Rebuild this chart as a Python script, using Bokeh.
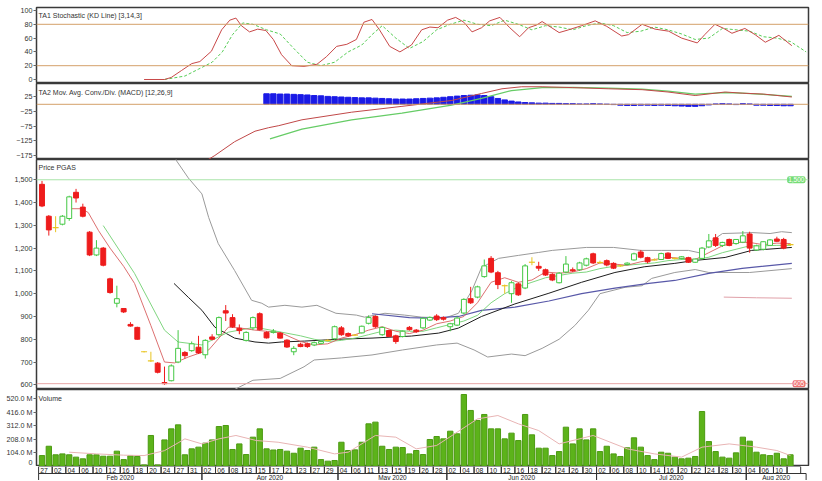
from bokeh.plotting import figure
from bokeh.layouts import column
from bokeh.models import Range1d, Span, Label, FixedTicker, ColumnDataSource, NumeralTickFormatter
from bokeh.core.properties import value
from bokeh.embed import file_html
from bokeh.resources import INLINE

# ---------------- data ----------------
opens = [1480,1340,1290,1305,1330,1445,1380,1270,1170,1200,
         1065,958,935,865,852,745,705,695,610,618,
         700,742,750,765,732,810,820,925,895,848,
         795,850,912,830,830,827,796,745,778,780,
         775,782,795,802,850,825,818,828,870,900,
         820,838,815,812,852,840,850,884,902,895,
         855,862,915,978,985,1075,1155,1092,1035,1000,
         1043,1025,1138,1120,1105,1085,1048,1095,1105,1105,
         1125,1175,1137,1145,1133,1122,1128,1148,1183,1158,
         1148,1150,1178,1155,1155,1158,1138,1155,1205,1245,
         1212,1238,1220,1226,1262,1192,1195,1212,1240,1238,1215]
highs = [1495,1345,1340,1345,1430,1460,1395,1275,1235,1205,
         1070,1035,935,875,855,748,745,700,680,690,
         840,748,790,815,800,822,900,950,910,865,
         835,900,918,835,845,832,800,770,785,785,
         790,792,800,860,858,830,822,860,905,905,
         855,842,820,838,858,845,895,900,910,900,
         872,900,980,1030,1035,1150,1165,1100,1040,1055,
         1050,1130,1160,1140,1110,1090,1095,1165,1115,1140,
         1158,1180,1145,1150,1138,1128,1138,1180,1192,1162,
         1155,1180,1182,1160,1165,1162,1155,1205,1262,1262,
         1228,1242,1240,1275,1272,1215,1230,1240,1250,1245,1220]
lows = [1380,1255,1270,1300,1320,1400,1335,1165,1165,1120,
        1000,940,915,855,798,742,700,650,600,615,
        695,715,745,735,715,795,815,880,850,822,
        790,840,838,803,825,803,762,730,765,762,
        770,778,790,798,815,810,814,825,865,850,
        815,810,780,808,838,828,845,880,880,882,
        835,858,910,955,980,1070,1090,1020,1000,960,
        990,1020,1125,1100,1078,1055,1045,1090,1095,1100,
        1120,1130,1130,1120,1108,1118,1125,1145,1155,1133,
        1145,1148,1152,1150,1150,1135,1135,1150,1200,1205,
        1205,1208,1215,1222,1180,1188,1190,1210,1228,1195,1210]
closes = [1385,1280,1290,1340,1425,1420,1340,1170,1200,1125,
          1005,978,920,858,800,745,705,655,605,683,
          760,728,780,740,795,800,895,915,855,838,
          830,895,842,806,835,805,766,760,768,768,
          785,790,795,855,820,815,818,857,895,855,
          852,812,790,835,842,833,892,896,886,888,
          868,893,975,960,1030,1122,1095,1040,1035,1048,
          995,1122,1138,1112,1082,1060,1090,1130,1100,1135,
          1153,1135,1137,1126,1112,1122,1134,1175,1160,1140,
          1148,1176,1155,1155,1162,1138,1152,1200,1232,1212,
          1225,1212,1238,1254,1200,1210,1228,1236,1230,1200,1215]
volumes_m = [82,154,88,95,88,70,57,88,88,77,
             77,116,51,80,75,10,237,10,203,288,
             319,88,134,147,178,203,306,314,129,172,
             90,224,288,134,125,129,116,100,139,121,
             147,51,39,44,185,121,126,185,327,340,
             154,129,147,144,95,121,90,206,229,211,
             270,250,553,430,353,399,288,288,211,255,
             198,399,242,139,139,82,113,301,172,288,
             203,288,113,154,95,75,142,219,147,82,
             51,108,100,70,57,62,75,422,190,113,
             70,62,103,224,193,108,88,82,100,57,88]

stoch_k_x = [15,18,19,20.5,22,23.2,24.9,26.4,27.6,28.5,29.3,30.5,31.7,32.9,34,35.2,36.7,38.5,40.4,41.8,
             43.3,44.8,46.2,47.3,48.5,49.6,51.1,52.6,54.3,55.8,57,58.2,59.6,60.8,62,63.2,64.6,65.8,67.3,68.75,
             70.2,71.5,72.7,73.5,76,77.4,79.3,81.3,83,85.2,86.2,88.2,90.1,92.1,94,96.3,97.4,98.9,100.2,101.4,
             103.3,104.8,106.3,108.3,110.2]
stoch_k = [0,0,3,13,23,26,41,72,86,89,78,69,73,71,58,36,20,19,22,33,
           48,51,58,83,87,72,48,40,50,72,76,75,86,90,83,69,75,85,90,75,
           62,75,79,84,68,72,78,85,77,63,65,80,73,70,60,53,65,80,74,67,
           74,65,54,64,49]
stoch_d_x = [18,21,23,25,26.5,28,29.5,31,33,35,37,39,41,43,45,47,48.5,50,52,54,
             56,58,60,62,64,66,68,70,72,74,76,78,80,82,84,86,88,90,92,94,
             96,98,100,102,104,106,108,110,112.3]
stoch_d = [0,5,15,25,40,65,82,80,72,66,45,25,20,25,40,50,65,78,60,45,
           55,72,80,86,80,78,86,80,72,78,76,72,78,82,78,68,70,76,72,66,
           58,60,74,72,70,62,60,55,40]

macd_x = [24,25.4,28.3,31.3,33.3,34.8,38.2,45.5,52.9,60.2,64.6,67.6,70.5,73.5,78,83.3,88.2,92,96,100.4,102.9,106,110.2]
macd = [-195,-175,-128,-92,-80,-73,-53,-27,-7,13,37,53,60,60,57,53,50,42,30,42,38,35,25]
signal_x = [33.5,38.2,45.5,52.9,60.2,64.6,69,73.5,78,83.3,88.2,92,96,100.4,102.9,106,110.2]
signal = [-118,-85,-53,-30,-3,20,47,57,58,55,52,45,35,40,38,34,27]
hist_start = 33
hist = [36,36,35,35,34,33,32,30,29,27,
        26,25,24,23,22,22,21,20,19,18,
        18,18,19,20,21,22,24,26,28,30,
        31,32,30,26,20,15,11,8,6,5,
        4,4,3,3,2,2,1,1,2,1,
        0,-1,-3,-4,-4,-3,-3,-4,-3,-4,
        -5,-6,-7,-7,-5,-2,1,2,1,-1,
        2,1,-3,-3,-4,-4,-5,-5]

bb_up_x = [19,19.8,21.5,23.5,24.5,25.9,28.3,30.8,32.3,33.3,35.7,38.2,40.4,43.2,46.2,47.4,50.4,53.3,55.8,59.2,
           61.2,63.2,64.6,67.1,70,73,75,80,84,88,91,95,97,98.5,100,104.5,107,108.7,110.2]
bb_up = [1650,1582,1508,1438,1334,1220,1102,971,958,941,949,941,949,914,906,897,914,906,897,893,
         914,1015,1115,1155,1168,1181,1190,1203,1203,1190,1190,1190,1177,1233,1264,1268,1264,1272,1268]
bb_lo_x = [28,31,35,38.5,40,44,48.5,53,58,61,63.5,65.5,69,71,73.5,76,78.3,80.3,82,85.7,88.2,89.6,93,96,98,104,110.2]
bb_lo = [575,620,628,679,709,718,731,753,775,783,753,722,735,728,760,800,860,927,1000,1028,1035,1067,1093,1106,1093,1093,1110]
bb_mid_x = [19.4,21.5,23.5,25.4,28.3,31.3,33.3,35.2,38.6,43.6,48.5,54.3,58.3,61.2,64.6,69.5,74.5,79.3,84.2,88.5,93,96,100.4,104.3,110.2]
bb_mid = [1045,984,927,853,805,788,783,788,792,800,805,814,827,849,900,955,1002,1050,1093,1118,1133,1146,1159,1190,1203]
ma_long_x = [48.5,54,57.3,61.2,64.6,69.5,74.5,79.3,84.2,89.2,93,98,102.9,110.2]
ma_long = [912,895,893,900,927,941,968,1000,1024,1045,1058,1089,1111,1133]
ma_fast_x = [3.9,5.8,6.8,8.3,10,12,13.6,16,18,19.5,21.5,24.5,27.4,29,31.3,33,35.2,38,
             40,42,44,46,48,50,52,54,56,58,60,62,64,66,68,70,72,74,76,78,80,82,84,86,88,90,
             92,94,96,98,100,102,104,106,108,110]
ma_fast = [1373,1373,1356,1277,1200,1120,1045,860,700,696,722,753,853,850,840,835,827,790,
           775,780,805,820,840,855,835,825,840,868,880,900,960,1050,1070,1050,1060,1095,1090,1095,1110,1135,1130,1125,1140,1150,
           1160,1155,1150,1180,1210,1225,1225,1215,1222,1220]
ma_mid_x = [9,13.6,18,20,23.5,27.4,31.3,35.2,38,
            40,42,44,46,48,50,52,54,56,58,60,62,64,66,68,70,72,74,76,78,80,82,84,86,88,90,
            92,94,96,98,100,102,104,106,108,110]
ma_mid = [1299,1089,840,788,775,831,853,831,815,
          800,790,795,805,820,835,840,835,835,850,865,880,905,960,1000,1030,1050,1070,1080,1090,1095,1110,1120,1125,1130,1135,
          1145,1150,1150,1160,1180,1195,1210,1210,1212,1212]
aux_x = [100.2,105,110.2]
aux = [985,982,980]
vol_ma_x = [4,8,12,15,18,20,21,23.5,26,28.5,31.5,34.7,39,43,45,49,52,55,58,61,64,67,70,73,76,81,86,90,94,97,101,105,108,110]
vol_ma = [108,95,85,82,120,180,211,172,211,237,198,185,147,95,108,237,224,134,160,262,365,391,327,275,172,237,134,95,70,147,172,147,121,82]

resistance = 1500
support = 605

day_labels = ["27","02","04","06","10","12","16","18","20","24","27","31",
              "02","06","08","13","15","17","21","23","27","29",
              "04","06","11","13","15","19","26","28",
              "02","04","08","10","12","16","18","22","24","26","30",
              "02","06","08","10","14","16","20","22","24","28","30",
              "04","06","10"]
month_labels = ["Feb 2020","Apr 2020","May 2020","Jun 2020","Jul 2020","Aug 2020"]
month_first_label = [0, 12, 22, 30, 41, 52]

stoch_ticks = [0, 20, 40, 60, 80, 100]
macd_ticks = [25, -25, -75, -125, -175]
price_ticks = [600, 700, 800, 900, 1000, 1100, 1200, 1300, 1400, 1500]
vol_ticks = [0, 104, 208, 312, 416, 520]
vol_tick_labels = ["0", "104.0 M", "208.0 M", "312.0 M", "416.0 M", "520.0 M"]

# ---------------- styling ----------------
FONT = "Liberation Sans"
W = 816
LB = 36
RB = 8
RED = "#ee1c1c"
GREEN = "#44c844"
YELLOW = "#e8c420"
LEVEL = "#d4a06a"
X0 = -0.81

N = len(closes)
idx = list(range(N))
xr = Range1d(X0, 112.65)


def panel(h, yr, ticks, top=0):
    p = figure(width=W, height=h + top, x_range=xr, y_range=yr, output_backend="svg",
               toolbar_location=None, tools="", x_axis_location=None,
               min_border_left=LB, min_border_right=RB, min_border_top=top, min_border_bottom=0)
    p.grid.visible = False
    p.outline_line_color = "#3a3a3a"
    p.outline_line_width = 1.5
    p.background_fill_color = "white"
    p.border_fill_color = "white"
    ax = p.yaxis[0]
    ax.ticker = FixedTicker(ticks=ticks, minor_ticks=[])
    ax.axis_line_color = None
    ax.major_tick_out = 3
    ax.major_tick_in = 0
    ax.major_tick_line_color = "#666666"
    ax.major_label_text_font = FONT
    ax.major_label_text_font_size = "7.2px"
    ax.major_label_text_color = "#333333"
    ax.major_label_standoff = 1
    return p


def title(p, text, y):
    p.add_layout(Label(x=X0 + 0.3, y=y, text=text, text_font=FONT, text_font_size="7px",
                       text_color="#333333", text_align="left", text_baseline="middle"))


# Stochastic
p1 = panel(76, Range1d(-5.8, 104.35), stoch_ticks, top=7)
for lv in (80, 20):
    p1.add_layout(Span(location=lv, dimension="width", line_color=LEVEL, line_width=1))
p1.line(stoch_d_x, stoch_d, line_color="#55cc55", line_width=1, line_dash="3 2")
p1.line(stoch_k_x, stoch_k, line_color="#c84848", line_width=1)
title(p1, "TA1 Stochastic (KD Line) [3,14,3]", 92.5)

# MACD
p2 = panel(76, Range1d(-188.7, 71.1), macd_ticks)
p2.add_layout(Span(location=0, dimension="width", line_color=LEVEL, line_width=1))
hx = [hist_start + k for k in range(len(hist))]
p2.vbar(x=hx, top=hist, bottom=0, width=0.8, fill_color="#1a1ae6", line_color="#1a1ae6")
p2.line(signal_x, signal, line_color="#66cc66", line_width=1.2)
p2.line(macd_x, macd, line_color="#c04848", line_width=1)
title(p2, "TA2 Mov. Avg. Conv./Div. (MACD) [12,26,9]", 41.5)

# Price
p3 = panel(230, Range1d(579.4, 1589), price_ticks)
p3.yaxis[0].formatter = NumeralTickFormatter(format="0,0")
p3.add_layout(Span(location=resistance, dimension="width", line_color="#a8e4a8", line_width=1))
p3.add_layout(Span(location=support, dimension="width", line_color="#e8a8a8", line_width=1))
p3.line(bb_up_x, bb_up, line_color="#9a9a9a", line_width=1)
p3.line(bb_lo_x, bb_lo, line_color="#9a9a9a", line_width=1)
p3.line(ma_long_x, ma_long, line_color="#5858a8", line_width=1.2)
p3.line(bb_mid_x, bb_mid, line_color="#1e1e1e", line_width=1)
p3.line(aux_x, aux, line_color="#e0a0a8", line_width=1)
p3.line(ma_mid_x, ma_mid, line_color="#70d070", line_width=0.9)
p3.line(ma_fast_x, ma_fast, line_color="#d86060", line_width=0.9)


def candle_src(ids):
    return ColumnDataSource(dict(
        x=ids,
        h=[highs[i] for i in ids], l=[lows[i] for i in ids],
        o=[opens[i] for i in ids],
        top=[max(opens[i], closes[i]) for i in ids],
        bot=[min(opens[i], closes[i]) for i in ids]))


up = candle_src([i for i in idx if closes[i] > opens[i]])
dn = candle_src([i for i in idx if closes[i] < opens[i]])
dj = candle_src([i for i in idx if closes[i] == opens[i]])
p3.segment(x0="x", y0="l", x1="x", y1="h", source=dn, line_color=RED, line_width=1)
p3.segment(x0="x", y0="l", x1="x", y1="h", source=up, line_color=GREEN, line_width=1)
p3.segment(x0="x", y0="l", x1="x", y1="h", source=dj, line_color=YELLOW, line_width=1)
p3.vbar(x="x", top="top", bottom="bot", width=0.72, source=dn, fill_color=RED, line_color=RED)
p3.vbar(x="x", top="top", bottom="bot", width=0.72, source=up, fill_color="white", line_color=GREEN)
p3.scatter(x="x", y="o", source=dj, marker="dash", size=6, line_color=YELLOW, line_width=1.2)
title(p3, "Price PGAS", 1555)
p3.add_layout(Label(x=112.2, y=resistance, text="1,500", text_font=FONT, text_font_size="6.5px",
                    text_color="white", text_align="right", text_baseline="middle",
                    background_fill_color="#77dd77", padding=1, border_radius=2))
p3.add_layout(Label(x=112.2, y=support, text="605", text_font=FONT, text_font_size="6.5px",
                    text_color="white", text_align="right", text_baseline="middle",
                    background_fill_color="#ee7070", padding=1, border_radius=2))

# Volume
p4 = panel(77, Range1d(-2.3, 591.7), vol_ticks)
p4.yaxis[0].major_label_overrides = {t: s for t, s in zip(vol_ticks, vol_tick_labels)}
p4.vbar(x=idx, top=volumes_m, bottom=0, width=0.78, fill_color="#5cb31a", line_color="#4c9a12")
p4.line(vol_ma_x, vol_ma, line_color="#e8b4b4", line_width=1)
title(p4, "Volume", 520)

# Date strip
p5 = figure(width=W, height=14, x_range=xr, y_range=Range1d(0, 14), output_backend="svg",
            toolbar_location=None, tools="", x_axis_location=None, y_axis_location=None,
            min_border_left=LB, min_border_right=RB, min_border_top=0, min_border_bottom=0)
p5.grid.visible = False
p5.outline_line_color = None
p5.background_fill_color = "white"
p5.border_fill_color = "white"
cell_x = [2 * k for k in range(len(day_labels) + 1)]
p5.quad(left=[c - 0.5 for c in cell_x], right=[c + 1.5 for c in cell_x], bottom=7, top=14,
        fill_color=None, line_color="#333333", line_width=1)
p5.text(x=[2 * k - 0.25 for k in range(len(day_labels))], y=10.5, text=day_labels,
        text_font=value(FONT), text_font_size="6.8px", text_color="#222222",
        text_align="left", text_baseline="middle")
m_left = [2 * k - 0.5 for k in month_first_label]
m_right = m_left[1:] + [112.3]
p5.quad(left=m_left, right=m_right, bottom=-2, top=7, fill_color=None, line_color="#333333", line_width=1)
p5.text(x=[(a + b) / 2 for a, b in zip(m_left, m_right)], y=3.4, text=month_labels,
        text_font=value(FONT), text_font_size="6.5px", text_color="#222222",
        text_align="center", text_baseline="middle")

layout = column(p1, p2, p3, p4, p5)
open("out.html", "w").write(file_html(layout, INLINE))
